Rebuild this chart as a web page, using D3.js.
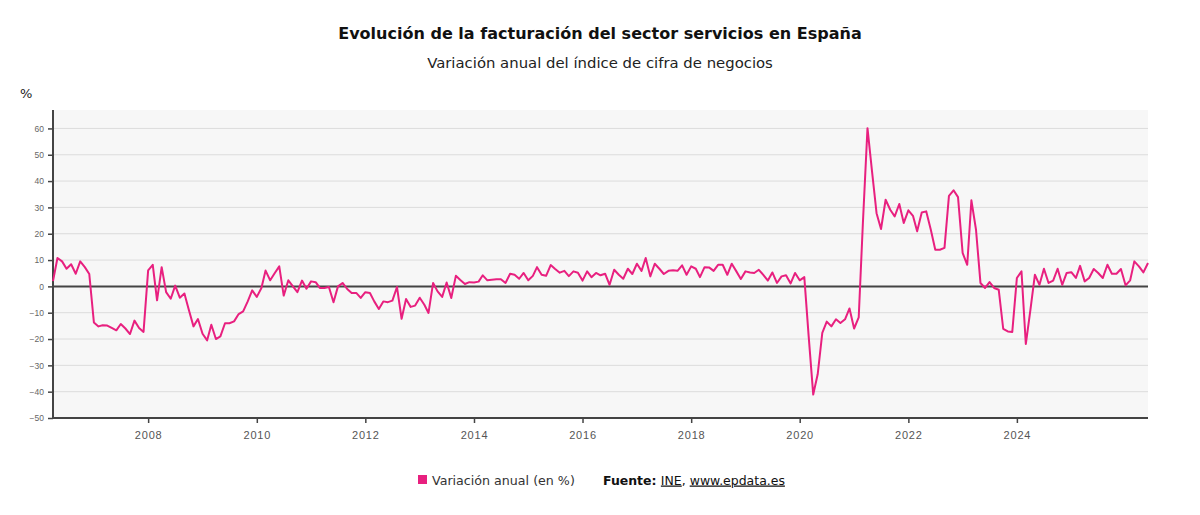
<!DOCTYPE html>
<html><head><meta charset="utf-8">
<script src="https://cdn.jsdelivr.net/npm/d3@7/dist/d3.min.js"></script>
<style>
html,body{margin:0;padding:0;background:#fff;}
svg{display:block;font-family:"DejaVu Sans",sans-serif;}
</style></head>
<body>
<svg id="c" width="1200" height="515"></svg>
<script>
// ---- data ----
const startMonth = "2006-04"; // first observation (month of index 0)
const endMonth = "2026-06";
const seriesName = "Variación anual (en %)";
const values = [
2,10.8,9.5,6.7,8.4,4.8,9.5,7.3,4.7,-13.7,-15.2,-14.8,-14.9,-15.8,-16.7,-14.3,-16,-18.1,-13,-15.8,
-17.3,6.1,8.2,-5.3,7.3,-2.2,-4.7,0.3,-4.3,-2.7,-9,-15.2,-12.4,-18,-20.5,-14.6,-20,-19,-14,-14,
-13.3,-10.5,-9.5,-5.7,-1.5,-4,-0.6,6,2.3,5,7.6,-3.5,2.3,0,-2.2,2.2,-0.9,1.9,1.6,-0.6,
-0.6,-0.25,-6,0,1.3,-1,-2.5,-2.5,-4.4,-2.2,-2.5,-5.7,-8.6,-5.7,-6,-5.4,-0.25,-12.3,-4.8,-7.8,
-7.3,-4.3,-7,-10.1,1.3,-1.9,-4,1.5,-4.4,4,2.4,0.9,1.6,1.5,1.8,4.2,2.3,2.5,2.7,2.7,
1.3,4.8,4.4,2.9,5.1,2.3,4,7.3,4.4,4,8.1,6.6,5.2,5.9,3.9,5.7,5.2,2.2,5.7,3.5,
5.1,4.2,4.8,0.6,6.3,4.4,2.9,6.7,4.7,8.6,5.9,10.8,3.8,8.6,6.7,4.7,5.9,6.1,5.9,8,
4.4,7.6,6.7,3.5,7.3,7.2,5.9,8.2,8.2,4.4,8.6,5.7,2.8,5.7,5.3,5.1,6.3,4.4,2.2,5.3,
1.3,3.8,4.2,1.1,5.1,2.3,3.5,-18.7,-41.1,-33.4,-17.7,-13.4,-15.2,-12.5,-13.9,-12.5,-8.4,-16,-11.8,24,
60.1,44,27.8,21.8,32.9,29.1,26.6,31.3,24.1,28.9,26.8,20.9,28.1,28.5,21.5,13.9,13.9,14.6,34.4,36.5,
33.9,12.7,8.2,32.7,21.5,1.3,-0.6,1.6,-0.6,-1.3,-16.1,-17.1,-17.3,3.2,5.7,-21.9,-8.9,4.4,0.6,6.7,
1.3,2.2,6.7,0.6,5.1,5.4,3.2,7.8,1.9,3.2,6.6,5.1,3.2,8.2,4.8,4.8,6.6,0.4,2.3,9.5,
7.6,5.3,8.9
];
const yTicks = [-50,-40,-30,-20,-10,0,10,20,30,40,50,60];
const xTickYears = [2008,2010,2012,2014,2016,2018,2020,2022,2024];
const titleText = "Evolución de la facturación del sector servicios en España";
const subtitleText = "Variación anual del índice de cifra de negocios";

// ---- chart ----
const svg = d3.select("#c");
const M = {l:53, r:1148, t:110, b:418};
const COLOR = "#e8207f";
const parseM = d3.timeParse("%Y-%m");
const t0 = parseM(startMonth);
const data = values.map((v,i)=>({date:d3.timeMonth.offset(t0,i), v}));

const x = d3.scaleTime().domain([t0, parseM(endMonth)]).range([M.l, M.r]);
const y = d3.scaleLinear().domain([-50, 67]).range([M.b, M.t]);

svg.append("rect").attr("x",M.l).attr("y",M.t).attr("width",M.r-M.l).attr("height",M.b-M.t).attr("fill","#f7f7f7");

// gridlines
svg.append("g").selectAll("line").data(yTicks.filter(d=>d!==0 && d!==-50)).join("line")
  .attr("x1",M.l).attr("x2",M.r).attr("y1",d=>y(d)).attr("y2",d=>y(d))
  .attr("stroke","#dcdcdc").attr("stroke-width",1);

// y axis
const yAxis = svg.append("g").attr("transform",`translate(${M.l},0)`)
  .call(d3.axisLeft(y).tickValues(yTicks).tickSize(5).tickPadding(4).tickFormat(d=>d<0?"\u2212"+Math.abs(d):d));
yAxis.select(".domain").attr("stroke","#444").attr("stroke-width",2).attr("d",`M0,${M.t}V${M.b}`);
yAxis.selectAll(".tick line").attr("stroke","#444").attr("stroke-width",1.5);
yAxis.selectAll(".tick text").attr("fill","#666").style("font-size","8.5px").style("font-family","Liberation Sans, Arial, sans-serif");

// x axis
const xAxis = svg.append("g").attr("transform",`translate(0,${M.b})`)
  .call(d3.axisBottom(x).tickValues(xTickYears.map(yr=>new Date(yr,0,1))).tickSize(5).tickPadding(8).tickFormat(d3.timeFormat("%Y")));
xAxis.select(".domain").attr("stroke","#444").attr("stroke-width",2).attr("d",`M${M.l},0H${M.r}`);
xAxis.selectAll(".tick line").attr("stroke","#444").attr("stroke-width",1.5);
xAxis.selectAll(".tick text").attr("fill","#555").style("font-size","11px").style("letter-spacing","0.8px");

// zero line
svg.append("line").attr("x1",M.l).attr("x2",M.r).attr("y1",y(0)).attr("y2",y(0))
  .attr("stroke","#444").attr("stroke-width",2);

// series line
svg.append("path").datum(data)
  .attr("fill","none").attr("stroke",COLOR).attr("stroke-width",2).attr("stroke-linejoin","round")
  .attr("d", d3.line().x(d=>x(d.date)).y(d=>y(d.v)));

// titles
function fit(sel, w){ const n=sel.node(); const L=n.getComputedTextLength(); const fs=parseFloat(sel.style("font-size")); sel.style("font-size",(fs*w/L)+"px"); }
const title = svg.append("text").attr("x",600).attr("y",39).attr("text-anchor","middle")
  .style("font-size","18px").style("font-weight","bold").attr("fill","#111").text(titleText);
fit(title, 524);
const sub = svg.append("text").attr("x",600).attr("y",68).attr("text-anchor","middle")
  .style("font-size","14px").attr("fill","#222").text(subtitleText);
fit(sub, 346);

svg.append("text").attr("x",20).attr("y",98).style("font-size","13px").attr("fill","#222").text("%");

// legend
svg.append("rect").attr("x",418).attr("y",475).attr("width",9).attr("height",9).attr("fill",COLOR);
const lg = svg.append("text").attr("x",432).attr("y",484.5).style("font-size","13px").attr("fill","#333").text(seriesName);
fit(lg, 143);
const src = svg.append("text").attr("x",603).attr("y",484.5).style("font-size","13px").attr("fill","#111");
src.append("tspan").style("font-weight","bold").text("Fuente: ");
src.append("tspan").style("text-decoration","underline").text("INE");
src.append("tspan").text(", ");
src.append("tspan").style("text-decoration","underline").text("www.epdata.es");
fit(src, 182);
</script>
</body></html>
